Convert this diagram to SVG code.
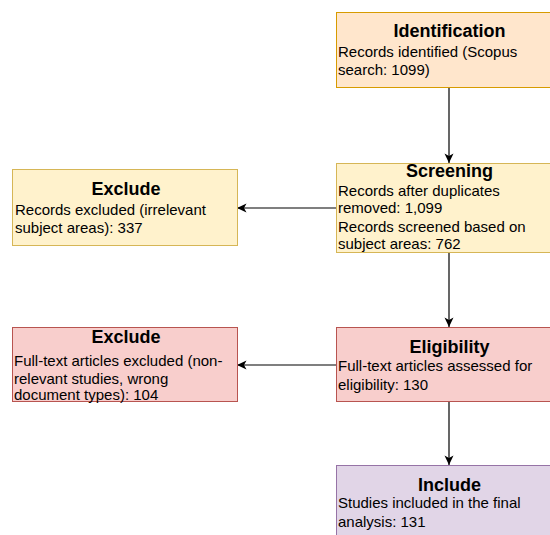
<svg xmlns="http://www.w3.org/2000/svg" width="550" height="535" viewBox="0 0 550 535">
<defs>
<style>
.t{font-family:"Liberation Sans",Arial,Helvetica,sans-serif;font-size:18px;font-weight:bold;fill:#000;text-anchor:middle}
.b{font-family:"Liberation Sans",Arial,Helvetica,sans-serif;font-size:15px;fill:#000}
.or{fill:#ffe6cc;stroke:#d79b00;stroke-width:1}
.ye{fill:#fff2cc;stroke:#d6b656;stroke-width:1}
.rd{fill:#f8cecc;stroke:#b85450;stroke-width:1}
.pu{fill:#e1d5e7;stroke:#9673a6;stroke-width:1}
.ln{fill:none;stroke:#000;stroke-width:1.2}
</style>
<marker id="ah" markerWidth="10" markerHeight="10" viewBox="0 0 10 10" refX="10" refY="5" orient="auto" markerUnits="userSpaceOnUse">
<path d="M10,5 L0.5,0.5 L3,5 L0.5,9.5 Z" fill="#000"/>
</marker>
</defs>
<rect width="550" height="535" fill="#fff"/>
<g id="connectors">
<line class="ln" x1="449" y1="87" x2="449" y2="163" marker-end="url(#ah)"/>
<line class="ln" x1="449" y1="252" x2="449" y2="327" marker-end="url(#ah)"/>
<line class="ln" x1="449" y1="401" x2="449" y2="465" marker-end="url(#ah)"/>
<line class="ln" x1="336" y1="208" x2="237" y2="208" marker-end="url(#ah)"/>
<line class="ln" x1="336" y1="365" x2="237" y2="365" marker-end="url(#ah)"/>
</g>
<g id="identification">
<rect class="or" x="336.5" y="12.5" width="226" height="75"/>
<text class="t" x="449.5" y="37">Identification</text>
<text class="b" x="338" y="57">Records identified (Scopus</text>
<text class="b" x="338" y="75">search: 1099)</text>
</g>
<g id="screening">
<rect class="ye" x="336.5" y="163.5" width="226" height="89"/>
<text class="t" x="449.5" y="177">Screening</text>
<text class="b" x="338" y="196">Records after duplicates</text>
<text class="b" x="338" y="213">removed: 1,099</text>
<text class="b" x="338" y="232">Records screened based on</text>
<text class="b" x="338" y="249">subject areas: 762</text>
</g>
<g id="exclude1">
<rect class="ye" x="12.5" y="169.5" width="225" height="76"/>
<text class="t" x="126" y="195">Exclude</text>
<text class="b" x="15" y="215">Records excluded (irrelevant</text>
<text class="b" x="15" y="233">subject areas): 337</text>
</g>
<g id="eligibility">
<rect class="rd" x="336.5" y="327.5" width="226" height="74"/>
<text class="t" x="449.5" y="353">Eligibility</text>
<text class="b" x="338" y="371">Full-text articles assessed for</text>
<text class="b" x="338" y="390">eligibility: 130</text>
</g>
<g id="exclude2">
<rect class="rd" x="12.5" y="327.5" width="225" height="74"/>
<text class="t" x="126" y="343">Exclude</text>
<text class="b" x="14" y="366">Full-text articles excluded (non-</text>
<text class="b" x="14" y="384">relevant studies, wrong</text>
<text class="b" x="14" y="400">document types): 104</text>
</g>
<g id="include">
<rect class="pu" x="336.5" y="465.5" width="226" height="80"/>
<text class="t" x="449.5" y="491">Include</text>
<text class="b" x="338" y="508">Studies included in the final</text>
<text class="b" x="338" y="527">analysis: 131</text>
</g>
</svg>
